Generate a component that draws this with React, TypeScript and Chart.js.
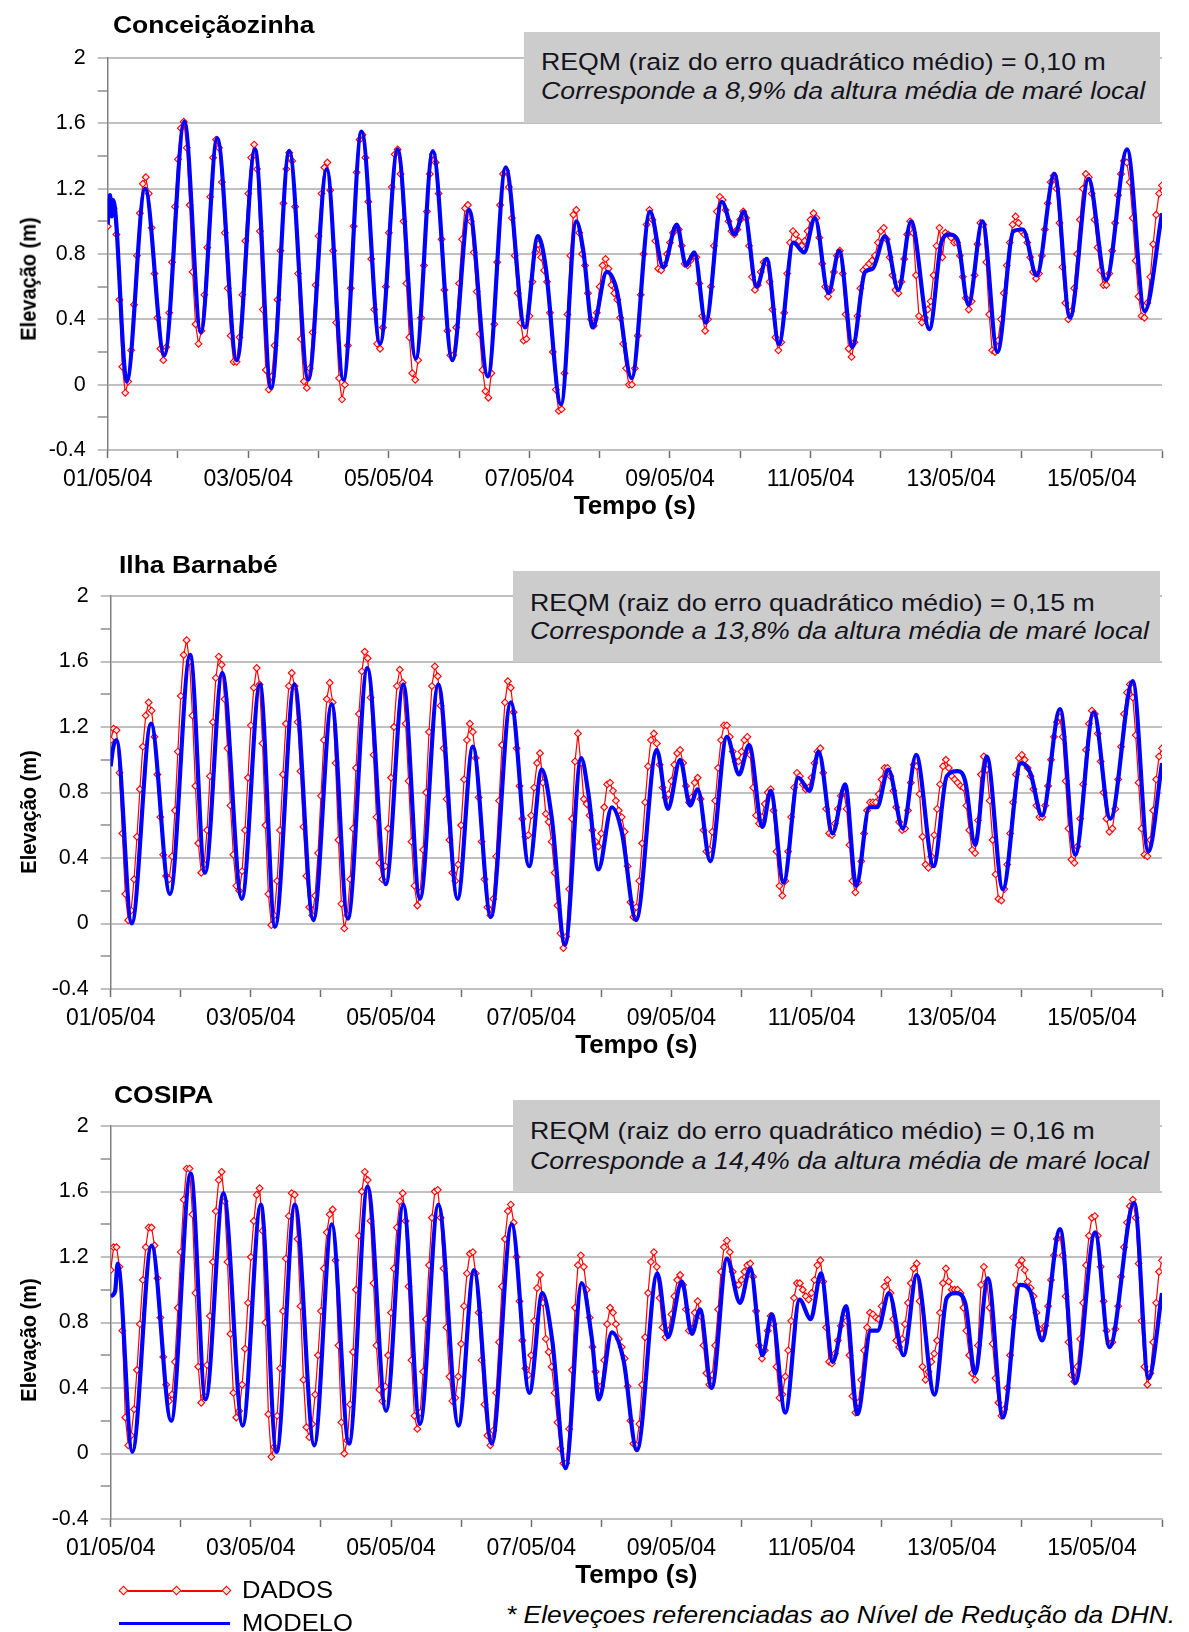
import React, { useEffect, useRef } from "react";
import { Chart, registerables } from "chart.js";

Chart.register(...registerables);

const FONT = "'Liberation Sans', Arial, Helvetica, sans-serif";

// ---------- text content ----------
const STATIONS = ["Conceiçãozinha", "Ilha Barnabé", "COSIPA"];
const REQM = ["0,10", "0,15", "0,16"];
const PERCENT = ["8,9%", "13,8%", "14,4%"];
const X_TICK_LABELS = [
  "01/05/04", "", "03/05/04", "", "05/05/04", "", "07/05/04", "",
  "09/05/04", "", "11/05/04", "", "13/05/04", "", "15/05/04", "",
];
const Y_TICK_LABELS: Record<string, string> = {
  "-4": "-0.4", "0": "0", "4": "0.4", "8": "0.8", "12": "1.2", "16": "1.6", "20": "2",
};

// ---------- data: DADOS (hourly observations, hour 0 = 01/05/04 00:00) ----------
const DADOS_CONCEICAOZINHA = [
  0.97, 1.13, 1.08, 0.92, 0.52, 0.11, -0.05, 0.02, 0.21, 0.49,
  0.79, 1.05, 1.23, 1.27, 1.17, 0.96, 0.68, 0.41, 0.22, 0.15,
  0.23, 0.44, 0.75, 1.09, 1.38, 1.57, 1.61, 1.45, 1.10, 0.69,
  0.37, 0.25, 0.33, 0.55, 0.84, 1.15, 1.39, 1.50, 1.45, 1.24,
  0.93, 0.59, 0.30, 0.14, 0.14, 0.29, 0.55, 0.88, 1.17, 1.39,
  1.47, 1.32, 0.94, 0.46, 0.09, -0.03, 0.05, 0.24, 0.52, 0.82,
  1.11, 1.32, 1.42, 1.37, 1.09, 0.68, 0.28, 0.02, -0.02, 0.10,
  0.32, 0.61, 0.91, 1.17, 1.33, 1.36, 1.19, 0.82, 0.38, 0.04,
  -0.09, 0.00, 0.24, 0.59, 0.97, 1.30, 1.50, 1.53, 1.39, 1.12,
  0.77, 0.46, 0.25, 0.22, 0.35, 0.60, 0.93, 1.21, 1.41, 1.44,
  1.29, 1.00, 0.62, 0.29, 0.07, 0.03, 0.15, 0.41, 0.73, 1.06,
  1.29, 1.41, 1.36, 1.17, 0.89, 0.58, 0.33, 0.18, 0.18, 0.35,
  0.62, 0.89, 1.08, 1.10, 1.00, 0.81, 0.57, 0.31, 0.09, -0.04,
  -0.08, 0.07, 0.37, 0.75, 1.10, 1.29, 1.31, 1.21, 1.02, 0.79,
  0.56, 0.38, 0.27, 0.28, 0.42, 0.63, 0.81, 0.86, 0.78, 0.70,
  0.63, 0.44, 0.20, -0.03, -0.16, -0.15, 0.07, 0.43, 0.79, 1.04,
  1.07, 0.93, 0.80, 0.73, 0.56, 0.40, 0.36, 0.44, 0.60, 0.73,
  0.77, 0.71, 0.61, 0.56, 0.52, 0.41, 0.25, 0.10, 0.00, 0.00,
  0.10, 0.30, 0.55, 0.80, 0.98, 1.07, 1.01, 0.88, 0.71, 0.70,
  0.73, 0.80, 0.87, 0.93, 0.96, 0.95, 0.85, 0.74, 0.73, 0.76,
  0.79, 0.78, 0.62, 0.42, 0.33, 0.40, 0.60, 0.85, 1.06, 1.15,
  1.13, 1.07, 1.00, 0.94, 0.92, 0.95, 1.01, 1.06, 1.02, 0.85,
  0.66, 0.58, 0.61, 0.69, 0.75, 0.75, 0.63, 0.46, 0.29, 0.21,
  0.26, 0.44, 0.68, 0.87, 0.94, 0.92, 0.88, 0.85, 0.88, 0.94,
  1.01, 1.05, 1.02, 0.90, 0.74, 0.60, 0.54, 0.58, 0.69, 0.79,
  0.82, 0.68, 0.43, 0.22, 0.17, 0.26, 0.42, 0.59, 0.70, 0.72,
  0.74, 0.76, 0.79, 0.87, 0.94, 0.96, 0.89, 0.78, 0.67, 0.58,
  0.56, 0.63, 0.77, 0.92, 1.00, 0.93, 0.67, 0.42, 0.38, 0.41,
  0.46, 0.51, 0.67, 0.85, 0.96, 0.78, 0.93, 0.92, 0.90, 0.87,
  0.87, 0.79, 0.66, 0.53, 0.46, 0.51, 0.67, 0.86, 0.99, 0.98,
  0.75, 0.43, 0.21, 0.20, 0.27, 0.40, 0.56, 0.73, 0.87, 0.98,
  1.03, 0.99, 0.94, 0.92, 0.87, 0.78, 0.69, 0.65, 0.68, 0.79,
  0.95, 1.11, 1.24, 1.28, 1.20, 0.99, 0.72, 0.50, 0.40, 0.45,
  0.59, 0.80, 1.01, 1.20, 1.29, 1.27, 1.17, 1.01, 0.84, 0.70,
  0.61, 0.61, 0.68, 0.82, 0.99, 1.16, 1.29, 1.37, 1.36, 1.24,
  1.02, 0.76, 0.54, 0.42, 0.41, 0.50, 0.66, 0.86, 1.04, 1.17,
  1.22,
];

const DADOS_BARNABE = [
  1.12, 1.19, 1.18, 0.92, 0.55, 0.18, 0.02, 0.08, 0.27, 0.53,
  0.82, 1.08, 1.27, 1.35, 1.30, 1.14, 0.91, 0.65, 0.42, 0.29,
  0.27, 0.41, 0.69, 1.05, 1.39, 1.64, 1.73, 1.60, 1.27, 0.84,
  0.49, 0.31, 0.36, 0.57, 0.90, 1.23, 1.50, 1.63, 1.58, 1.37,
  1.07, 0.72, 0.42, 0.23, 0.20, 0.32, 0.57, 0.89, 1.21, 1.44,
  1.56, 1.46, 1.10, 0.60, 0.18, -0.01, 0.05, 0.26, 0.57, 0.91,
  1.22, 1.45, 1.53, 1.45, 1.23, 0.93, 0.59, 0.29, 0.10, 0.05,
  0.17, 0.43, 0.78, 1.12, 1.37, 1.47, 1.35, 0.98, 0.51, 0.12,
  -0.03, 0.05, 0.27, 0.58, 0.95, 1.28, 1.54, 1.66, 1.62, 1.38,
  1.03, 0.65, 0.37, 0.27, 0.35, 0.58, 0.89, 1.20, 1.45, 1.55,
  1.47, 1.22, 0.87, 0.50, 0.23, 0.11, 0.19, 0.45, 0.80, 1.17,
  1.45, 1.57, 1.51, 1.33, 1.07, 0.76, 0.51, 0.31, 0.26, 0.36,
  0.60, 0.88, 1.12, 1.22, 1.17, 1.01, 0.77, 0.50, 0.27, 0.10,
  0.05, 0.15, 0.41, 0.75, 1.09, 1.35, 1.48, 1.44, 1.29, 1.07,
  0.84, 0.64, 0.53, 0.54, 0.66, 0.83, 0.98, 1.04, 0.86, 0.67,
  0.62, 0.50, 0.31, 0.11, -0.06, -0.15, -0.08, 0.21, 0.64, 0.99,
  1.16, 0.98, 0.76, 0.73, 0.66, 0.57, 0.50, 0.47, 0.55, 0.71,
  0.85, 0.86, 0.81, 0.75, 0.69, 0.65, 0.56, 0.35, 0.13, 0.04,
  0.10, 0.26, 0.49, 0.74, 0.96, 1.12, 1.16, 1.10, 0.97, 0.83,
  0.77, 0.79, 0.87, 0.97, 1.04, 1.06, 0.98, 0.84, 0.74, 0.77,
  0.86, 0.89, 0.76, 0.57, 0.44, 0.45, 0.56, 0.75, 0.95, 1.12,
  1.21, 1.21, 1.14, 1.05, 0.99, 0.99, 1.05, 1.12, 1.14, 1.03,
  0.83, 0.66, 0.61, 0.65, 0.73, 0.80, 0.82, 0.69, 0.44, 0.23,
  0.17, 0.26, 0.44, 0.65, 0.83, 0.92, 0.90, 0.85, 0.82, 0.83,
  0.89, 0.98, 1.05, 1.07, 0.92, 0.70, 0.55, 0.54, 0.61, 0.70,
  0.78, 0.81, 0.70, 0.48, 0.26, 0.19, 0.25, 0.38, 0.55, 0.69,
  0.74, 0.74, 0.74, 0.79, 0.88, 0.95, 0.95, 0.90, 0.81, 0.71,
  0.62, 0.57, 0.58, 0.69, 0.86, 0.97, 0.96, 0.79, 0.53, 0.36,
  0.34, 0.41, 0.54, 0.70, 0.85, 0.96, 1.00, 0.95, 0.90, 0.88,
  0.86, 0.84, 0.83, 0.72, 0.57, 0.45, 0.43, 0.63, 0.91, 1.02,
  0.94, 0.75, 0.51, 0.30, 0.15, 0.14, 0.21, 0.36, 0.55, 0.74,
  0.91, 1.01, 1.03, 1.00, 0.95, 0.90, 0.82, 0.72, 0.65, 0.65,
  0.72, 0.84, 1.00, 1.14, 1.23, 1.26, 1.14, 0.87, 0.58, 0.39,
  0.37, 0.47, 0.64, 0.85, 1.06, 1.22, 1.30, 1.28, 1.16, 0.99,
  0.80, 0.64, 0.56, 0.58, 0.70, 0.88, 1.08, 1.28, 1.41, 1.46,
  1.38, 1.15, 0.86, 0.58, 0.42, 0.41, 0.51, 0.69, 0.88, 1.02,
  1.07,
];

const DADOS_COSIPA = [
  1.12, 1.26, 1.26, 1.14, 0.75, 0.22, 0.05, 0.11, 0.27, 0.51,
  0.79, 1.06, 1.26, 1.38, 1.38, 1.27, 1.07, 0.83, 0.59, 0.42,
  0.32, 0.36, 0.56, 0.89, 1.23, 1.55, 1.74, 1.74, 1.46, 0.98,
  0.53, 0.31, 0.35, 0.54, 0.84, 1.17, 1.48, 1.67, 1.72, 1.54,
  1.17, 0.73, 0.37, 0.22, 0.26, 0.42, 0.64, 0.92, 1.20, 1.42,
  1.58, 1.62, 1.36, 0.80, 0.24, -0.02, 0.04, 0.23, 0.52, 0.87,
  1.19, 1.45, 1.59, 1.58, 1.31, 0.90, 0.45, 0.16, 0.10, 0.18,
  0.36, 0.60, 0.87, 1.13, 1.35, 1.46, 1.49, 1.18, 0.66, 0.19,
  0.00, 0.08, 0.30, 0.62, 1.00, 1.33, 1.60, 1.72, 1.67, 1.42,
  1.04, 0.66, 0.39, 0.32, 0.41, 0.60, 0.86, 1.13, 1.38, 1.54,
  1.59, 1.42, 1.02, 0.57, 0.23, 0.15, 0.25, 0.50, 0.82, 1.15,
  1.44, 1.60, 1.61, 1.44, 1.13, 0.77, 0.47, 0.32, 0.34, 0.47,
  0.67, 0.90, 1.10, 1.22, 1.23, 1.10, 0.86, 0.57, 0.30, 0.11,
  0.05, 0.14, 0.37, 0.68, 1.02, 1.31, 1.48, 1.52, 1.41, 1.20,
  0.93, 0.69, 0.52, 0.48, 0.60, 0.81, 1.01, 1.09, 0.92, 0.70,
  0.62, 0.53, 0.37, 0.19, 0.03, -0.06, -0.06, 0.15, 0.51, 0.89,
  1.15, 1.21, 1.14, 1.00, 0.83, 0.65, 0.50, 0.41, 0.41, 0.57,
  0.79, 0.89, 0.86, 0.79, 0.70, 0.65, 0.58, 0.41, 0.20, 0.06,
  0.05, 0.18, 0.42, 0.71, 0.98, 1.17, 1.23, 1.14, 0.95, 0.77,
  0.71, 0.75, 0.85, 0.96, 1.06, 1.09, 1.03, 0.88, 0.75, 0.76,
  0.86, 0.93, 0.84, 0.66, 0.49, 0.42, 0.48, 0.66, 0.88, 1.11,
  1.26, 1.30, 1.23, 1.11, 1.03, 1.03, 1.06, 1.11, 1.15, 1.16,
  1.08, 0.87, 0.66, 0.58, 0.63, 0.75, 0.84, 0.79, 0.53, 0.34,
  0.36, 0.47, 0.63, 0.81, 0.95, 1.04, 1.04, 1.00, 0.96, 0.94,
  0.98, 1.06, 1.15, 1.18, 1.05, 0.77, 0.56, 0.55, 0.61, 0.69,
  0.78, 0.83, 0.81, 0.60, 0.35, 0.25, 0.31, 0.45, 0.63, 0.77,
  0.86, 0.85, 0.83, 0.82, 0.90, 1.02, 1.06, 0.98, 0.82, 0.69,
  0.65, 0.70, 0.79, 0.92, 1.04, 1.13, 1.16, 0.93, 0.53, 0.45,
  0.50, 0.56, 0.61, 0.69, 0.86, 1.04, 1.13, 1.05, 1.00, 1.00,
  1.00, 0.98, 0.89, 0.75, 0.60, 0.49, 0.45, 0.66, 1.03, 1.14,
  1.05, 0.89, 0.67, 0.46, 0.31, 0.23, 0.27, 0.40, 0.60, 0.83,
  1.03, 1.15, 1.18, 1.12, 1.05, 1.01, 0.96, 0.86, 0.76, 0.73,
  0.78, 0.90, 1.06, 1.21, 1.31, 1.34, 1.21, 0.96, 0.68, 0.48,
  0.44, 0.53, 0.70, 0.92, 1.15, 1.33, 1.44, 1.45, 1.33, 1.14,
  0.93, 0.75, 0.67, 0.68, 0.76, 0.90, 1.08, 1.26, 1.41, 1.51,
  1.55, 1.44, 1.16, 0.81, 0.53, 0.42, 0.49, 0.68, 0.92, 1.11,
  1.18,
];

// ---------- data: MODELO (turning points of the model curve: [hour, elevation]) ----------
const MODELO_CONCEICAOZINHA: [number, number][] = [
  [0, 0.98], [0.8, 1.16], [1.4, 1.03], [1.9, 1.13], [6.5, 0.02], [12.75, 1.2], [19.35, 0.18],
  [26.2, 1.61], [31.8, 0.32], [37.4, 1.51], [44.1, 0.15], [50.3, 1.44], [55.8, -0.02], [62.0, 1.43],
  [68.5, 0.03], [74.8, 1.32], [80.5, 0.03], [86.7, 1.55], [93.0, 0.25], [99.0, 1.44], [105.2, 0.16],
  [111.0, 1.43], [117.7, 0.15], [123.4, 1.07], [129.8, 0.05], [135.9, 1.33], [142.5, 0.35], [146.9, 0.91],
  [149.4, 0.74], [154.8, -0.12], [160.0, 1.0], [162.4, 0.82], [165.6, 0.35], [170.4, 0.69], [173.8, 0.58],
  [178.9, 0.04], [185.2, 1.06], [189.7, 0.72], [194.3, 0.98], [197.5, 0.73], [200.3, 0.81], [204.2, 0.38],
  [209.7, 1.12], [214.0, 0.92], [217.3, 1.06], [221.6, 0.6], [225.0, 0.77], [229.2, 0.25], [234.1, 0.87],
  [237.8, 0.81], [241.5, 1.02], [246.1, 0.56], [249.8, 0.82], [254.3, 0.23], [258.6, 0.69], [261.2, 0.71],
  [265.4, 0.91], [270.0, 0.58], [274.3, 1.0], [280.6, 0.34], [284.8, 0.88], [287.4, 0.92], [290.1, 0.89],
  [293.9, 0.49], [298.7, 1.0], [303.8, 0.2], [309.3, 0.94], [312.5, 0.95], [317.2, 0.67], [323.3, 1.29],
  [328.6, 0.41], [334.9, 1.26], [340.9, 0.64], [348.1, 1.44], [354.1, 0.45], [360, 1.05],
];

const MODELO_BARNABE: [number, number][] = [
  [0, 0.96], [0.8, 1.07], [2.0, 1.12], [7.2, 0.0], [13.8, 1.22], [20.3, 0.18], [27.2, 1.64],
  [32.3, 0.31], [38.2, 1.53], [44.9, 0.15], [51.1, 1.46], [56.3, -0.02], [62.9, 1.46], [69.4, 0.02],
  [75.7, 1.34], [81.2, 0.03], [87.9, 1.56], [94.2, 0.24], [100.2, 1.46], [105.9, 0.15], [112.2, 1.46],
  [118.8, 0.15], [124.0, 1.08], [130.2, 0.04], [137.0, 1.35], [143.3, 0.35], [147.6, 0.94], [151.0, 0.65],
  [155.6, -0.13], [161.1, 1.01], [163.6, 0.79], [167.0, 0.33], [171.6, 0.71], [175.0, 0.56], [179.9, 0.02],
  [187.0, 1.06], [190.8, 0.7], [195.0, 1.0], [198.4, 0.72], [201.0, 0.82], [205.3, 0.38], [211.0, 1.14],
  [215.2, 0.91], [218.6, 1.09], [223.2, 0.59], [226.0, 0.81], [230.4, 0.25], [235.5, 0.89], [239.3, 0.81],
  [242.4, 1.05], [247.2, 0.55], [251.5, 0.85], [255.3, 0.23], [259.8, 0.71], [262.4, 0.71], [266.3, 0.94],
  [271.3, 0.58], [275.8, 1.03], [281.8, 0.35], [286.3, 0.9], [290.0, 0.93], [292.6, 0.87], [296.0, 0.48],
  [300.0, 1.02], [305.5, 0.21], [311.7, 0.98], [314.9, 0.92], [318.9, 0.66], [325.1, 1.31], [330.3, 0.42],
  [336.6, 1.29], [342.3, 0.64], [350.0, 1.48], [355.3, 0.44], [360, 0.98],
];

const MODELO_COSIPA: [number, number][] = [
  [0, 0.96], [1.5, 0.99], [2.4, 1.16], [7.4, 0.01], [14.0, 1.27], [20.7, 0.2], [27.4, 1.71],
  [32.5, 0.33], [38.6, 1.59], [45.2, 0.17], [51.4, 1.52], [56.8, 0.01], [63.1, 1.52], [69.7, 0.05],
  [75.7, 1.4], [81.6, 0.06], [88.0, 1.63], [94.3, 0.26], [100.2, 1.52], [105.9, 0.18], [112.2, 1.52],
  [119.1, 0.17], [124.4, 1.12], [130.5, 0.06], [137.3, 1.4], [143.4, 0.37], [147.8, 0.98], [151.2, 0.69],
  [155.8, -0.09], [161.3, 1.04], [164.7, 0.71], [167.2, 0.33], [171.6, 0.74], [175.6, 0.57], [180.2, 0.02],
  [187.2, 1.1], [190.8, 0.71], [195.6, 1.05], [199.0, 0.73], [201.8, 0.88], [205.8, 0.4], [211.0, 1.19],
  [215.5, 0.92], [219.0, 1.13], [223.2, 0.6], [226.4, 0.85], [231.0, 0.25], [235.9, 0.94], [239.7, 0.82],
  [243.2, 1.1], [247.3, 0.56], [251.8, 0.9], [255.7, 0.24], [260.3, 0.75], [262.6, 0.75], [266.5, 0.98],
  [271.5, 0.6], [276.0, 1.09], [282.1, 0.36], [286.3, 0.95], [289.5, 0.98], [292.6, 0.92], [296.0, 0.49],
  [300.4, 1.07], [305.5, 0.22], [311.4, 1.03], [314.9, 0.99], [318.9, 0.69], [325.1, 1.37], [330.3, 0.43],
  [337.1, 1.35], [342.0, 0.65], [350.5, 1.53], [355.4, 0.46], [360, 0.98],
];

const DADOS = [DADOS_CONCEICAOZINHA, DADOS_BARNABE, DADOS_COSIPA];
const MODELO = [MODELO_CONCEICAOZINHA, MODELO_BARNABE, MODELO_COSIPA];

// ---------- layout (page pixels) ----------
const PLOT_TOP = [58.3, 596, 1125.7];
const PLOT_BOTTOM = [450.1, 988.8, 1518.8];
const PLOT_LEFT = [107.7, 110.7, 110.7];
const PLOT_RIGHT = 1162;
const PAD_TOP = 58;
const X_AXIS_H = 80;
const TITLE_X = [113, 119, 114];
const TITLE_BASE = [33.5, 573.3, 1103.3];
const BOX_LEFT = [524, 513, 513];
const BOX_TOP = [31.7, 571, 1100];
const BOX_BOTTOM = [122.7, 661.7, 1191.7];
const BOX_RIGHT = 1160;
const LINE1_BASE = [70.7, 611.7, 1140];
const LINE2_BASE = [100, 640, 1169.3];
const YTITLE_CY = [279, 812, 1340];

const isMajor = (v: number) => Math.round(v * 10) % 4 === 0;

function makeConfig(i: number): any {
  const left = PLOT_LEFT[i];
  const dados = DADOS[i].map((v, h) => ({ x: h, y: v }));
  const modelo = MODELO[i].map(([t, v]) => ({ x: t, y: v }));
  return {
    type: "line",
    data: {
      datasets: [
        {
          label: "MODELO",
          data: modelo,
          borderColor: "#0000ff",
          borderWidth: 4.2,
          pointRadius: 0,
          cubicInterpolationMode: "monotone",
          fill: false,
          order: 0,
        },
        {
          label: "DADOS",
          data: dados,
          borderColor: "#ff0000",
          borderWidth: 1.2,
          pointStyle: "rectRot",
          pointRadius: 3.4,
          pointBorderWidth: 1.1,
          pointBorderColor: "#ff0000",
          pointBackgroundColor: "#ffe4e4",
          tension: 0,
          fill: false,
          order: 1,
        },
      ],
    },
    options: {
      responsive: false,
      animation: false,
      events: [],
      layout: { padding: { top: PAD_TOP, left: 0, right: 1189 - PLOT_RIGHT, bottom: 0 } },
      plugins: { legend: { display: false }, tooltip: { enabled: false }, title: { display: false } },
      scales: {
        x: {
          type: "linear",
          min: 0,
          max: 360,
          afterFit: (s: any) => {
            s.height = X_AXIS_H;
          },
          ticks: {
            stepSize: 24,
            autoSkip: false,
            maxRotation: 0,
            minRotation: 0,
            padding: 8,
            color: "#000",
            font: { family: FONT, size: 23 },
            callback: (v: number) => X_TICK_LABELS[Math.round(v / 24)] ?? "",
          },
          grid: {
            drawOnChartArea: false,
            drawTicks: true,
            tickLength: 8,
            tickColor: "#6e6e6e",
            tickWidth: 1.5,
          },
          border: { display: true, color: "#c0c0c0", width: 2 },
          title: {
            display: true,
            text: "Tempo (s)",
            color: "#000",
            font: { family: FONT, size: 26, weight: "bold" },
            padding: { top: 0, bottom: 7.5 },
          },
        },
        y: {
          min: -0.4,
          max: 2,
          afterFit: (s: any) => {
            s.width = left;
          },
          ticks: {
            stepSize: 0.2,
            autoSkip: false,
            padding: 12,
            color: "#000",
            font: { family: FONT, size: 21.5 },
            callback: (v: number) => Y_TICK_LABELS[String(Math.round(v * 10))] ?? "",
          },
          grid: {
            drawTicks: true,
            tickLength: 10,
            color: (c: any) => (isMajor(c.tick.value) ? "#c0c0c0" : "rgba(0,0,0,0)"),
            lineWidth: (c: any) => (isMajor(c.tick.value) ? 2 : 0),
            tickColor: (c: any) => (isMajor(c.tick.value) ? "#c0c0c0" : "#7a7a7a"),
            tickWidth: (c: any) => (isMajor(c.tick.value) ? 2 : 1.3),
          },
          border: { display: true, color: "#808080", width: 1.5 },
        },
      },
    },
  };
}

function Txt(props: {
  x: number;
  base: number;
  size: number;
  bold?: boolean;
  italic?: boolean;
  sx?: number;
  color?: string;
  children: React.ReactNode;
}) {
  const { x, base, size, bold, italic, sx = 1, color = "#000", children } = props;
  return (
    <div
      style={{
        position: "absolute",
        left: x,
        top: base - 0.8465 * size,
        fontFamily: FONT,
        fontSize: size,
        lineHeight: `${size}px`,
        fontWeight: bold ? "bold" : "normal",
        fontStyle: italic ? "italic" : "normal",
        color,
        whiteSpace: "nowrap",
        transform: `scaleX(${sx})`,
        transformOrigin: "left top",
      }}
    >
      {children}
    </div>
  );
}

export default function App() {
  const r0 = useRef<HTMLCanvasElement>(null);
  const r1 = useRef<HTMLCanvasElement>(null);
  const r2 = useRef<HTMLCanvasElement>(null);
  const refs = [r0, r1, r2];

  useEffect(() => {
    const charts = refs.map((r, i) => new Chart(r.current as HTMLCanvasElement, makeConfig(i)));
    return () => charts.forEach((c) => c.destroy());
  }, []);

  return (
    <div
      style={{
        position: "absolute",
        left: 0,
        top: 0,
        width: 1189,
        height: 1632,
        overflow: "hidden",
        background: "#fff",
        fontFamily: FONT,
      }}
    >
      {[0, 1, 2].map((i) => {
        const h = PAD_TOP + (PLOT_BOTTOM[i] - PLOT_TOP[i]) + X_AXIS_H;
        return (
          <canvas
            key={"c" + i}
            ref={refs[i]}
            width={1189}
            height={Math.round(h)}
            style={{ position: "absolute", left: 0, top: PLOT_TOP[i] - PAD_TOP, width: 1189, height: Math.round(h) }}
          />
        );
      })}

      {[0, 1, 2].map((i) => (
        <React.Fragment key={"o" + i}>
          <Txt x={TITLE_X[i]} base={TITLE_BASE[i]} size={24.5} bold sx={1.08}>
            {STATIONS[i]}
          </Txt>
          <div
            style={{
              position: "absolute",
              left: BOX_LEFT[i],
              top: BOX_TOP[i],
              width: BOX_RIGHT - BOX_LEFT[i],
              height: BOX_BOTTOM[i] - BOX_TOP[i],
              background: "#cccccc",
            }}
          />
          <Txt x={BOX_LEFT[i] + 17} base={LINE1_BASE[i]} size={24.5} sx={1.09} color="#141420">
            {`REQM (raiz do erro quadrático médio) = ${REQM[i]} m`}
          </Txt>
          <Txt x={BOX_LEFT[i] + 17} base={LINE2_BASE[i]} size={24.5} italic sx={1.09} color="#141420">
            {`Corresponde a ${PERCENT[i]} da altura média de maré local`}
          </Txt>
          <div
            style={{
              position: "absolute",
              left: 28,
              top: YTITLE_CY[i],
              transform: "translate(-50%, -50%) scaleX(1.12) rotate(-90deg)",
              fontFamily: FONT,
              fontWeight: "bold",
              fontSize: 20,
              lineHeight: "20px",
              whiteSpace: "nowrap",
              color: "#000",
            }}
          >
            Elevação (m)
          </div>
        </React.Fragment>
      ))}

      {/* legend */}
      <div style={{ position: "absolute", left: 119, top: 1589.7, width: 109, height: 2, background: "#ff0000" }} />
      {[123.6, 176.7, 226].map((cx) => (
        <div
          key={"d" + cx}
          style={{
            position: "absolute",
            left: cx - 3.5,
            top: 1590.7 - 3.5,
            width: 5,
            height: 5,
            border: "1.2px solid #ff0000",
            background: "#ffe4e4",
            transform: "rotate(45deg)",
          }}
        />
      ))}
      <Txt x={242} base={1598.5} size={23.5} sx={1.09}>
        DADOS
      </Txt>
      <div style={{ position: "absolute", left: 119, top: 1621.5, width: 111, height: 3.5, background: "#0000ff" }} />
      <Txt x={242} base={1632} size={23.5} sx={1.09}>
        MODELO
      </Txt>
      <Txt x={506} base={1623} size={24} italic sx={1.1}>
        * Eleveçoes referenciadas ao Nível de Redução da DHN.
      </Txt>
    </div>
  );
}
